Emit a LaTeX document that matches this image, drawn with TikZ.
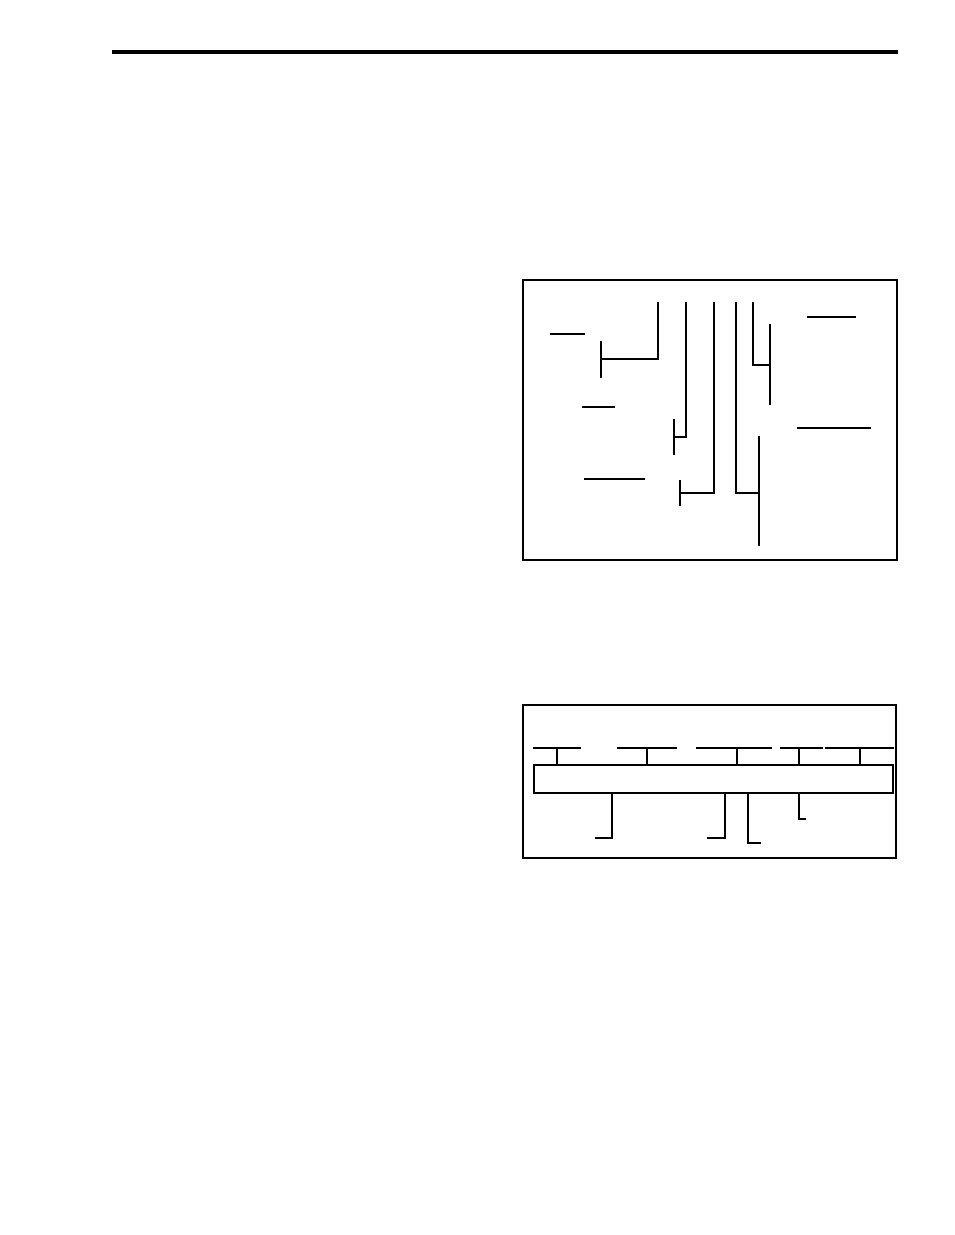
\documentclass[tikz,border=0pt]{standalone}
\begin{document}
\begin{tikzpicture}[x=1pt,y=-1pt,
  thinline/.style={line width=1.2pt,line cap=rect},
  frame/.style={line width=2.6pt},
  rule/.style={line width=4pt}]
\useasboundingbox (0,0) rectangle (954,1235);
% top rule
\draw[rule] (112,52) -- (898,52);
% ---------- box 1 ----------
\draw[frame] (523,280) rectangle (897,560);
\draw[thinline] (551,334) -- (584,334);
\draw[thinline] (601,342) -- (601,377);
\draw[thinline] (601,359) -- (658,359) -- (658,303);
\draw[thinline] (583,407) -- (614,407);
\draw[thinline] (686,303) -- (686,437) -- (674,437);
\draw[thinline] (674,420) -- (674,454);
\draw[thinline] (714,303) -- (714,493) -- (680,493);
\draw[thinline] (680,481) -- (680,505);
\draw[thinline] (585,479) -- (644,479);
\draw[thinline] (736,303) -- (736,493) -- (759,493);
\draw[thinline] (759,437) -- (759,545);
\draw[thinline] (753,303) -- (753,365) -- (770,365);
\draw[thinline] (770,325) -- (770,404);
\draw[thinline] (808,317) -- (855,317);
\draw[thinline] (798,428) -- (870,428);
% ---------- box 2 ----------
\draw[frame] (523,705) rectangle (896,858);
\draw[line width=1.3pt] (534,765) rectangle (893,793);
\draw[thinline] (534,748) -- (580,748);
\draw[thinline] (618,748) -- (676,748);
\draw[thinline] (697,748) -- (771,748);
\draw[thinline] (781,748) -- (822,748);
\draw[thinline] (826,748) -- (893,748);
\foreach \x in {557,647,737,799,860}
  \draw[thinline] (\x,748) -- (\x,765);
\draw[thinline] (612,793) -- (612,838) -- (596,838);
\draw[thinline] (725,793) -- (725,838) -- (708,838);
\draw[thinline] (748,793) -- (748,843) -- (760,843);
\draw[thinline] (799,793) -- (799,819) -- (805,819);
\end{tikzpicture}
\end{document}
